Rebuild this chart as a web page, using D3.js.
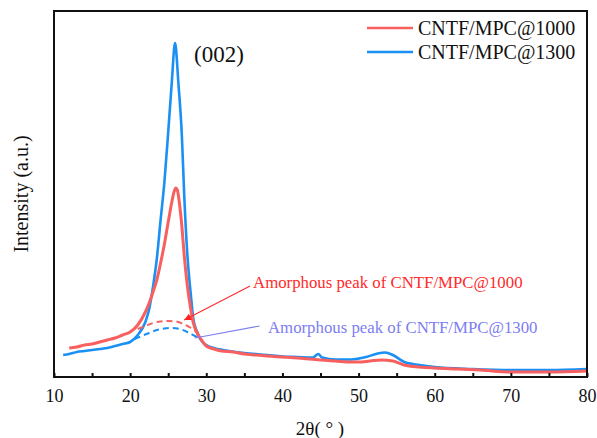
<!DOCTYPE html>
<html>
<head>
<meta charset="utf-8">
<script src="https://cdn.jsdelivr.net/npm/d3@7/dist/d3.min.js"></script>
<style>
  html, body { margin: 0; padding: 0; background: #fff; }
  svg text { font-family: "Liberation Serif", "Times New Roman", serif; }
</style>
</head>
<body>
<svg id="chart" width="597" height="438"></svg>
<script>
// ---- data (2θ, intensity a.u.) ----
const seriesNames = ["CNTF/MPC@1000", "CNTF/MPC@1300"];
const xTicks = [10, 20, 30, 40, 50, 60, 70, 80];
const xMinorTicks = [15, 25, 35, 45, 55, 65, 75];

const red1000 = [
  [12.0,29],[13,30],[14,32],[15,33],[16,35],[17,37],[18,39],[19,42],[20,45],[21,52],
  [22,65],[22.5,74],[23,85],[23.5,97],[24,114],[24.5,133],[25,155],[25.5,176],[25.8,186],
  [26.0,189],[26.2,187],[26.5,172],[26.8,150],[27.1,122],[27.5,92],[28,66],[28.3,54],
  [28.8,44],[29.2,39],[30,31],[31,28],[32,26],[33.5,25],[35,23],[36.5,22],[38,21],
  [40,20],[42,19],[43.5,18],[45,17],[47,16],[49,15],[50,15],[51.5,16],[53,17],
  [54.5,16],[56,12],[58,10],[60,9],[63,8],[66,7],[70,5],[75,5],[80,6]
];
const blue1300 = [
  [11.2,22],[12,23],[13,25],[14,26],[15,27],[16,28],[17,29],[18,31],[19,33],[20,35],
  [21,42],[22,55],[22.5,68],[23,90],[23.5,118],[24,157],[24.5,195],[25,245],[25.5,298],
  [25.8,330],[25.9,334],[26.0,330],[26.3,298],[26.8,240],[27.1,182],[27.5,124],[28,80],
  [28.3,58],[28.8,45],[29.2,38],[30,32],[31,29],[33,26],[35,24],[38,22],[40,20.5],
  [42,20],[44,19.5],[44.7,23],[45.2,19.5],[47,17.5],[49,17.5],[51,20],[52.5,23.5],[53.5,24.5],
  [54.5,22],[56,15],[58,12],[60,10],[65,8],[70,7],[75,7],[80,8]
];
const amorph1000 = [
  [21.0,48],[22,51],[23,54],[24,55.5],[25,56],[26,55.5],[27,53],[28,49],[29,44]
];
const amorph1300 = [
  [20.6,38],[21.5,41],[22.5,44],[23.5,47],[24.5,48.5],[25.5,49],[26.5,48],[27.5,45],[28.5,41],[29,39]
];
const annotations = [
  { text: "Amorphous peak of CNTF/MPC@1000", tx: 36.14, ty: 89, from: [35.75, 91], to: [27.1, 57], color: "#ff2a2a", arrow: true },
  { text: "Amorphous peak of CNTF/MPC@1300", tx: 38.1, ty: 44, from: [37.0, 51], to: [28.5, 39], color: "#7d7df2", arrow: false }
];
const peakLabel = { text: "(002)", x: 28.4, y: 315 };

// ---- layout ----
const svg = d3.select("#chart");
const L = 54, R = 587, T = 11, B = 377;
const x = d3.scaleLinear().domain([10, 80]).range([L, R]);
const y = d3.scaleLinear().domain([0, 366]).range([B, T]);
const RED = "#f85f5f", BLUE = "#1a90f5";

const defs = svg.append("defs");
defs.append("marker").attr("id", "arrRed").attr("viewBox", "0 0 10 10")
  .attr("refX", 10).attr("refY", 5).attr("markerWidth", 9).attr("markerHeight", 7)
  .attr("markerUnits", "userSpaceOnUse").attr("orient", "auto")
  .append("path").attr("d", "M0,0 L10,5 L0,10 z").attr("fill", "#ff2020");

const line = d3.line().x(d => x(d[0])).y(d => y(d[1])).curve(d3.curveMonotoneX);

// curves
svg.append("path").datum(blue1300).attr("d", line)
  .attr("fill", "none").attr("stroke", BLUE).attr("stroke-width", 2.6).attr("stroke-linejoin", "round");
svg.append("path").datum(red1000).attr("d", line)
  .attr("fill", "none").attr("stroke", RED).attr("stroke-width", 3).attr("stroke-linejoin", "round");

svg.append("path").datum(amorph1000).attr("d", line)
  .attr("fill", "none").attr("stroke", RED).attr("stroke-width", 2).attr("stroke-dasharray", "6,4");
svg.append("path").datum(amorph1300).attr("d", line)
  .attr("fill", "none").attr("stroke", BLUE).attr("stroke-width", 2).attr("stroke-dasharray", "6,4");

// annotations
annotations.forEach(a => {
  const l = svg.append("line")
    .attr("x1", x(a.from[0])).attr("y1", y(a.from[1]))
    .attr("x2", x(a.to[0])).attr("y2", y(a.to[1]))
    .attr("stroke", a.color).attr("stroke-width", 1.1);
  if (a.arrow) l.attr("marker-end", "url(#arrRed)");
  svg.append("text").attr("x", x(a.tx)).attr("y", y(a.ty))
    .attr("fill", a.color).attr("font-size", 16.8).text(a.text);
});

svg.append("text").attr("x", x(peakLabel.x)).attr("y", y(peakLabel.y))
  .attr("font-size", 23).attr("fill", "#111").text(peakLabel.text);

// frame
svg.append("rect").attr("x", L).attr("y", T).attr("width", R - L).attr("height", B - T)
  .attr("fill", "none").attr("stroke", "#111").attr("stroke-width", 2);

// x axis (ticks inward)
const xAxis = d3.axisBottom(x).tickValues(xTicks).tickSize(-4).tickPadding(12).tickFormat(d3.format("d"));
const gx = svg.append("g").attr("transform", `translate(0,${B})`).call(xAxis);
gx.select(".domain").remove();
gx.selectAll(".tick line").attr("stroke", "#111").attr("stroke-width", 2);
gx.selectAll(".tick text").attr("font-size", 18).attr("fill", "#111")
  .attr("font-family", "Liberation Serif, serif");
const gxm = svg.append("g").attr("transform", `translate(0,${B})`)
  .call(d3.axisBottom(x).tickValues(xMinorTicks).tickSize(-4).tickFormat(""));
gxm.select(".domain").remove();
gxm.selectAll(".tick line").attr("stroke", "#111").attr("stroke-width", 2);

// axis titles
svg.append("text").attr("x", 320).attr("y", 435).attr("text-anchor", "middle")
  .attr("font-size", 19).attr("fill", "#111").text("2θ( ° )");
svg.append("text").attr("transform", "translate(28,194) rotate(-90)").attr("text-anchor", "middle")
  .attr("font-size", 20).attr("fill", "#111").text("Intensity (a.u.)");

// legend
const legend = [{ name: seriesNames[0], color: RED, y: 28 }, { name: seriesNames[1], color: BLUE, y: 52 }];
legend.forEach(d => {
  svg.append("line").attr("x1", 367).attr("x2", 413).attr("y1", d.y).attr("y2", d.y)
    .attr("stroke", d.color).attr("stroke-width", 2.5);
  svg.append("text").attr("x", 418).attr("y", d.y + 7).attr("font-size", 20).attr("fill", "#111").text(d.name);
});
</script>
</body>
</html>
